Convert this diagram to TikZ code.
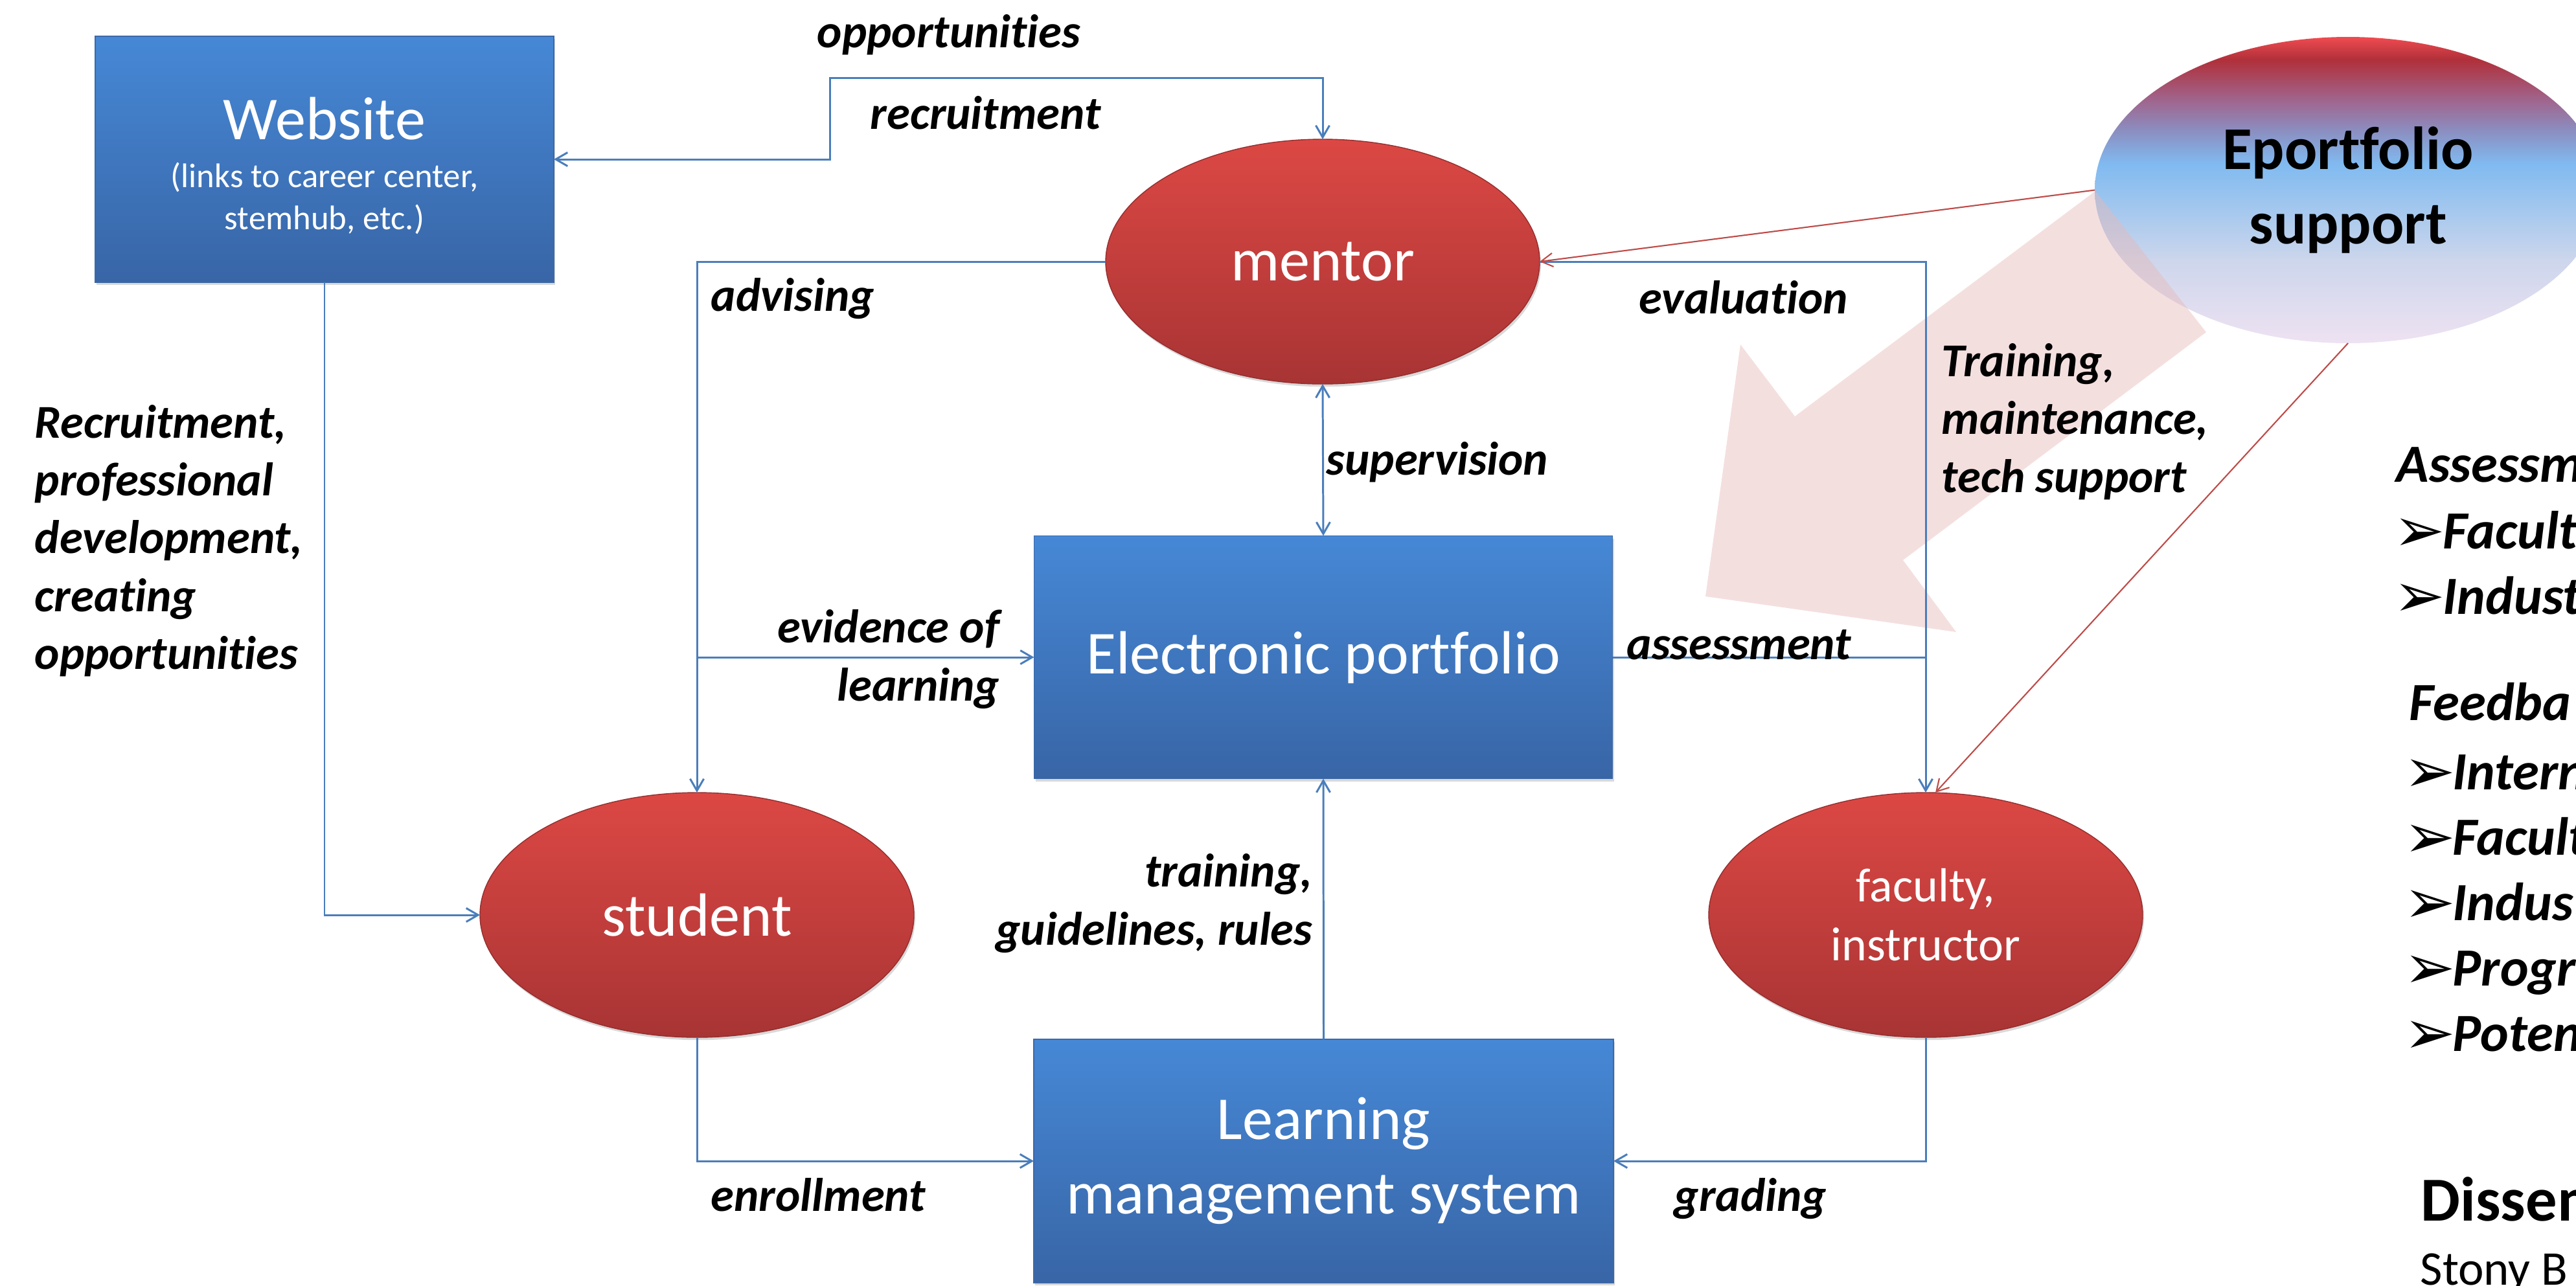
\documentclass[tikz,border=0pt]{standalone}
\usepackage{fontspec}
\setmainfont{Carlito}[Ligatures=NoCommon]
\newfontfamily\dingfont{DejaVu Sans}
\usetikzlibrary{shapes.geometric,arrows.meta,shadows}

\definecolor{linkblue}{RGB}{74,126,187}
\definecolor{linkred}{RGB}{190,75,72}
\definecolor{boxtop}{RGB}{70,136,214}
\definecolor{boxbot}{RGB}{56,101,166}
\definecolor{boxedge}{RGB}{60,104,168}
\definecolor{roletop}{RGB}{220,72,68}
\definecolor{rolebot}{RGB}{168,52,52}
\definecolor{roleedge}{RGB}{150,45,45}
\definecolor{hintpink}{RGB}{230,185,184}
% colours of the support bubble, bottom to top
\definecolor{epA}{RGB}{238,226,242}
\definecolor{epB}{RGB}{205,214,236}
\definecolor{epC}{RGB}{165,200,238}
\definecolor{epD}{RGB}{128,186,240}
\definecolor{epE}{RGB}{140,140,190}
\definecolor{epF}{RGB}{160,100,140}
\definecolor{epG}{RGB}{176,48,58}
\definecolor{epH}{RGB}{240,75,80}
\pgfdeclareverticalshading{eportshade}{100bp}{color(0bp)=(epA); color(25bp)=(epA);
  color(38.5bp)=(epB); color(46.6bp)=(epC); color(54.3bp)=(epD); color(60bp)=(epE);
  color(64.8bp)=(epF); color(71.3bp)=(epG); color(75bp)=(epH); color(100bp)=(epH)}

\tikzset{
  box/.style={rectangle, draw=boxedge, line width=0.4pt, top color=boxtop, bottom color=boxbot,
    text=white, inner sep=0pt, outer sep=0pt, align=center,
    drop shadow={opacity=0.3, shadow xshift=0.6pt, shadow yshift=-1.2pt},
    font=\fontsize{26.8pt}{32.7pt}\selectfont},
  role/.style={ellipse, draw=roleedge, line width=0.4pt, top color=roletop, bottom color=rolebot,
    text=white, inner sep=0pt, outer sep=0pt, align=center,
    minimum width=6.7cm, minimum height=3.78cm,
    drop shadow={opacity=0.3, shadow xshift=0.6pt, shadow yshift=-1.2pt},
    font=\fontsize{26.8pt}{32.7pt}\selectfont},
  link/.style={linkblue, line width=0.85pt},
  redlink/.style={linkred, line width=0.6pt},
  tag/.style={inner sep=0pt, font=\fontsize{20.7pt}{25.4pt}\selectfont\bfseries\itshape},
  note/.style={inner sep=0pt, font=\fontsize{23.6pt}{28.8pt}\selectfont\bfseries\itshape},
  ding/.style={inner sep=0pt, xshift=-0.13cm, yshift=-0.04cm, font=\fontsize{27pt}{30pt}\dingfont}
}

\begin{document}
\begin{tikzpicture}[>={Straight Barb[length=5.2pt,width=6pt]}]
\useasboundingbox (0,0) rectangle (39.77,-19.85);
\clip (0,0) rectangle (39.77,-19.85);

% support bubble and the big hint arrow over it
\node[ellipse, shading=eportshade, minimum width=7.82cm, minimum height=4.73cm, inner sep=0pt,
  outer sep=0pt, align=center, font=\fontsize{26.7pt}{32.7pt}\selectfont\bfseries] (eport)
  at (36.25,-2.935) {Eportfolio\\support};
\fill[hintpink, opacity=0.45] (32.35,-2.95) -- (27.71,-6.43) -- (26.87,-5.32) -- (26.33,-9.21)
  -- (30.20,-9.76) -- (29.38,-8.65) -- (34.06,-5.13) -- cycle;

% boxes and roles
\node[box, minimum width=7.08cm, minimum height=3.80cm] (website) at (5.01,-2.46) {};
\node[anchor=base, text=white, inner sep=0pt, font=\fontsize{26.8pt}{32.7pt}\selectfont]
  (webname) at (5.01,-2.15) {Website};
\node[text=white, align=center, inner sep=0pt, font=\fontsize{15pt}{18.5pt}\selectfont]
  (weblinks) at (5.01,-3.06) {(links to career center,\\stemhub, etc.)};
\node[role] (mentor) at (20.42,-4.04) {mentor};
\node[box, minimum width=8.93cm, minimum height=3.75cm] (ep) at (20.43,-10.15) {Electronic portfolio};
\node[role] (student) at (10.76,-14.13) {student};
\node[role, font=\fontsize{21pt}{25.9pt}\selectfont] (faculty) at (29.73,-14.13) {faculty,\\instructor};
\node[box, minimum width=8.95cm, minimum height=3.76cm] (lms) at (20.435,-17.93) {Learning\\management system};

% connectors
\coordinate (rjog) at (12.81,-1.20);
\draw[link,<->] (website.east) -| (rjog) -| (mentor.north);
\draw[link,->] (mentor.west) -| (student.north);
\draw[link,->] (mentor.east) -| (faculty.north);
\draw[link,<->] (mentor.south) -- (ep.north);
\draw[link,->] (student.north |- ep.west) -- (ep.west);
\draw[link] (ep.east) -- (ep.east -| faculty.north);
\draw[link,->] (lms.north) -- (ep.south);
\draw[link,->] (student.south) |- (lms.west);
\draw[link,->] (faculty.south) |- (lms.east);
\draw[link,->] (website.south) |- (student.west);
\draw[redlink,->] (eport.west) -- (mentor.east);
\draw[redlink,->] (eport.south) -- ([xshift=0.15cm]faculty.north);

% connector labels
\node[tag, anchor=base west] (lopp) at (12.61,-0.73) {opportunities};
\node[tag, anchor=base west] (lrec) at (13.43,-1.99) {recruitment};
\node[tag, anchor=base west] (ladv) at (10.97,-4.80) {advising};
\node[tag, anchor=base west] (leval) at (25.30,-4.84) {evaluation};
\node[tag, anchor=base west] (lsup) at (20.47,-7.33) {supervision};
\node[tag, anchor=west, align=left] (ltrain) at (29.97,-6.51) {Training,\\maintenance,\\tech support};
\node[tag, anchor=base west] (lasm) at (25.11,-10.18) {assessment};
\node[tag, anchor=east, align=right] (levid) at (15.44,-10.18) {evidence of\\learning};
\node[tag, anchor=east, align=right] (lguide) at (20.27,-13.95) {training,\\guidelines, rules};
\node[tag, anchor=base west] (lenr) at (10.97,-18.70) {enrollment};
\node[tag, anchor=base west] (lgrade) at (25.84,-18.70) {grading};
\node[tag, anchor=west, align=left] (lweb) at (0.53,-8.35)
  {Recruitment,\\professional\\development,\\creating\\opportunities};

% side notes
\node[note, anchor=base west] (nasm) at (36.99,-7.44) {Assessm};
\node[ding, anchor=base west] (b1) at (37.08,-8.47) {➢};
\node[note, anchor=base west] (n1) at (37.71,-8.47) {Facult};
\node[ding, anchor=base west] (b2) at (37.08,-9.48) {➢};
\node[note, anchor=base west] (n2) at (37.71,-9.48) {Indust};
\node[note, anchor=base west] (nfeed) at (37.19,-11.12) {Feedba};
\node[ding, anchor=base west] (b3) at (37.24,-12.19) {➢};
\node[note, anchor=base west] (n3) at (37.86,-12.19) {Intern};
\node[ding, anchor=base west] (b4) at (37.24,-13.20) {➢};
\node[note, anchor=base west] (n4) at (37.86,-13.20) {Facult};
\node[ding, anchor=base west] (b5) at (37.24,-14.21) {➢};
\node[note, anchor=base west] (n5) at (37.86,-14.21) {Indus};
\node[ding, anchor=base west] (b6) at (37.24,-15.22) {➢};
\node[note, anchor=base west] (n6) at (37.86,-15.22) {Progr};
\node[ding, anchor=base west] (b7) at (37.24,-16.23) {➢};
\node[note, anchor=base west] (n7) at (37.86,-16.23) {Poten};
\node[inner sep=0pt, anchor=base west, font=\fontsize{27.5pt}{33pt}\selectfont\bfseries]
  (ndis) at (37.37,-18.85) {Dissem};
\node[inner sep=0pt, anchor=base west, font=\fontsize{21.3pt}{26pt}\selectfont]
  (nstony) at (37.36,-19.84) {Stony B};
\end{tikzpicture}
\end{document}
